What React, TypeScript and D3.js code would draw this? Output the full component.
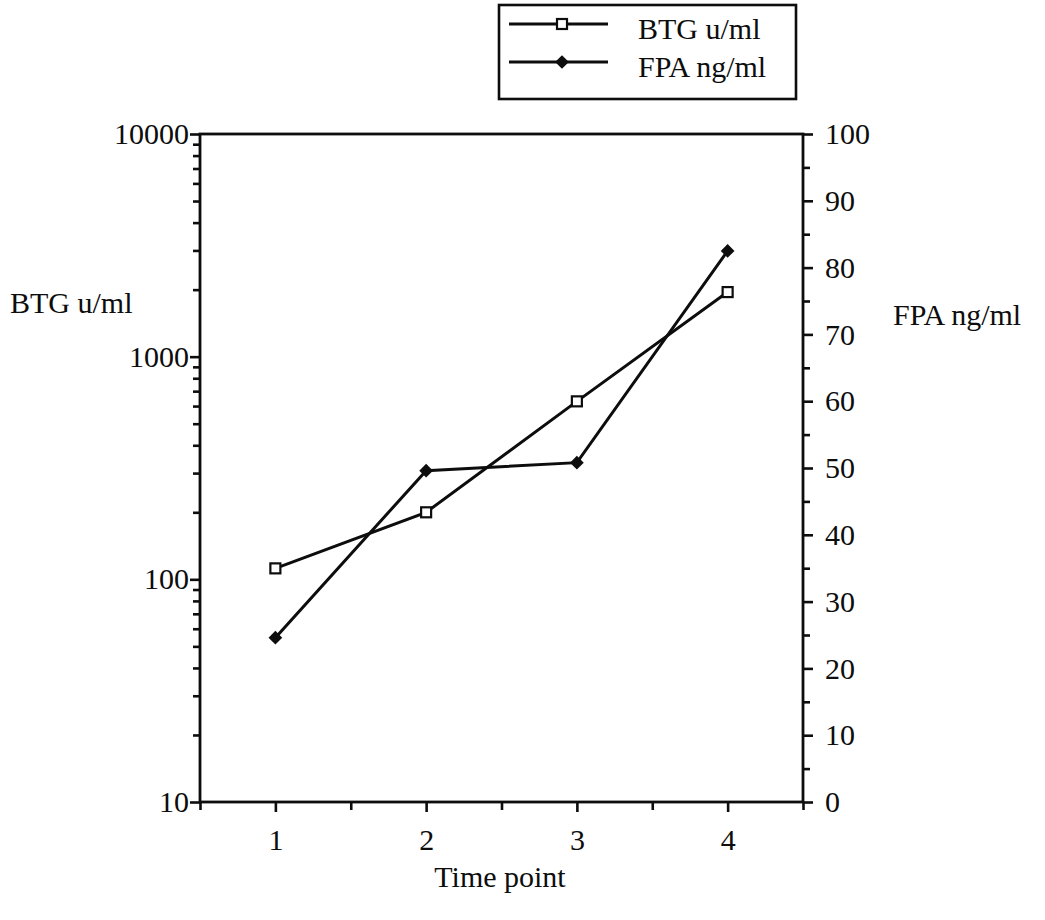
import { useEffect, useRef } from "react";
import * as d3 from "d3";

// data
const timePoints = [1, 2, 3, 4];
const btgValues = [112, 200, 630, 1950]; // BTG u/ml, left log axis
const fpaValues = [24.6, 49.6, 50.8, 82.5]; // FPA ng/ml, right linear axis

const leftMajorTicks = [10, 100, 1000, 10000];
const rightMajorTicks = [0, 10, 20, 30, 40, 50, 60, 70, 80, 90, 100];
const xMajorTicks = [1, 2, 3, 4];
const xMinorTicks = [0.5, 1.5, 2.5, 3.5, 4.5];

const legendItems = [
  { label: "BTG u/ml", marker: "square" },
  { label: "FPA ng/ml", marker: "diamond" },
];

const WIDTH = 1045;
const HEIGHT = 920;
const FONT = "'Liberation Serif', 'Times New Roman', serif";
const INK = "#0d0d0d";

export default function App() {
  const svgRef = useRef<SVGSVGElement>(null);

  useEffect(() => {
    const svg = svgRef.current;
    if (!svg) return;
    const sel = d3.select(svg);
    sel.selectAll("*").remove();

    const plot = { left: 200, right: 803, top: 134, bottom: 802 };

    const x = d3.scaleLinear().domain([0.5, 4.5]).range([plot.left, plot.right]);
    const yLeft = d3.scaleLog().domain([10, 10000]).range([plot.bottom, plot.top]);
    const yRight = d3.scaleLinear().domain([0, 100]).range([plot.bottom, plot.top]);

    sel.append("rect").attr("width", WIDTH).attr("height", HEIGHT).attr("fill", "#fff");

    // minor ticks for the log axis: 2..9 in each decade
    const leftMinor: number[] = [];
    for (let d = 10; d < 10000; d *= 10) {
      for (let k = 2; k <= 9; k++) leftMinor.push(d * k);
    }
    const rightMinor = d3.range(5, 100, 10);

    const styleAxis = (g: d3.Selection<SVGGElement, unknown, null, undefined>) => {
      g.selectAll(".domain").remove();
      g.selectAll(".tick line").attr("stroke", INK).attr("stroke-width", 2.6);
      g.selectAll(".tick text")
        .attr("font-family", FONT)
        .attr("font-size", 30)
        .attr("fill", INK);
    };

    // left axis
    sel.append("g")
      .attr("transform", `translate(${plot.left},0)`)
      .call(d3.axisLeft(yLeft).tickValues(leftMinor).tickSize(7).tickFormat(() => ""))
      .call(styleAxis);
    sel.append("g")
      .attr("transform", `translate(${plot.left},0)`)
      .call(d3.axisLeft(yLeft).tickValues(leftMajorTicks).tickSize(10).tickPadding(1).tickFormat(d3.format("d")))
      .call(styleAxis);

    // right axis
    sel.append("g")
      .attr("transform", `translate(${plot.right},0)`)
      .call(d3.axisRight(yRight).tickValues(rightMinor).tickSize(7).tickFormat(() => ""))
      .call(styleAxis);
    sel.append("g")
      .attr("transform", `translate(${plot.right},0)`)
      .call(d3.axisRight(yRight).tickValues(rightMajorTicks).tickSize(10).tickPadding(12))
      .call(styleAxis);

    // bottom axis
    sel.append("g")
      .attr("transform", `translate(0,${plot.bottom})`)
      .call(d3.axisBottom(x).tickValues(xMinorTicks).tickSize(8).tickFormat(() => ""))
      .call(styleAxis);
    sel.append("g")
      .attr("transform", `translate(0,${plot.bottom})`)
      .call(d3.axisBottom(x).tickValues(xMajorTicks).tickSize(10).tickPadding(17).tickFormat(d3.format("d")))
      .call(styleAxis);

    // frame
    sel.append("rect")
      .attr("x", plot.left)
      .attr("y", plot.top)
      .attr("width", plot.right - plot.left)
      .attr("height", plot.bottom - plot.top)
      .attr("fill", "none")
      .attr("stroke", INK)
      .attr("stroke-width", 2.8);

    const diamond = d3.symbol().type(d3.symbolDiamond2).size(120);

    // BTG line
    const btgLine = d3.line<number>()
      .x((_, i) => x(timePoints[i]))
      .y((d) => yLeft(d));
    sel.append("path")
      .datum(btgValues)
      .attr("d", btgLine)
      .attr("fill", "none")
      .attr("stroke", INK)
      .attr("stroke-width", 3);

    // FPA line
    const fpaLine = d3.line<number>()
      .x((_, i) => x(timePoints[i]))
      .y((d) => yRight(d));
    sel.append("path")
      .datum(fpaValues)
      .attr("d", fpaLine)
      .attr("fill", "none")
      .attr("stroke", INK)
      .attr("stroke-width", 3);

    sel.append("g")
      .selectAll("rect")
      .data(btgValues)
      .enter()
      .append("rect")
      .attr("x", (_, i) => x(timePoints[i]) - 5)
      .attr("y", (d) => yLeft(d) - 5)
      .attr("width", 10)
      .attr("height", 10)
      .attr("fill", "#fff")
      .attr("stroke", INK)
      .attr("stroke-width", 2.2);

    sel.append("g")
      .selectAll("path")
      .data(fpaValues)
      .enter()
      .append("path")
      .attr("transform", (d, i) => `translate(${x(timePoints[i])},${yRight(d)})`)
      .attr("d", diamond)
      .attr("fill", INK);

    // axis titles
    sel.append("text")
      .attr("x", 10)
      .attr("y", 313)
      .attr("font-family", FONT)
      .attr("font-size", 30)
      .attr("fill", INK)
      .text("BTG u/ml");
    sel.append("text")
      .attr("x", 893)
      .attr("y", 325)
      .attr("font-family", FONT)
      .attr("font-size", 30)
      .attr("fill", INK)
      .text("FPA ng/ml");
    sel.append("text")
      .attr("x", 500)
      .attr("y", 887)
      .attr("text-anchor", "middle")
      .attr("font-family", FONT)
      .attr("font-size", 30)
      .attr("fill", INK)
      .text("Time point");

    // legend
    const legend = sel.append("g").attr("transform", "translate(499,5)");
    legend.append("rect")
      .attr("width", 297)
      .attr("height", 94)
      .attr("fill", "#fff")
      .attr("stroke", INK)
      .attr("stroke-width", 2.6);
    legendItems.forEach((item, i) => {
      const cy = 19 + i * 38;
      const row = legend.append("g").attr("transform", `translate(0,${cy})`);
      row.append("line")
        .attr("x1", 10)
        .attr("x2", 109)
        .attr("stroke", INK)
        .attr("stroke-width", 2.8);
      if (item.marker === "square") {
        row.append("rect")
          .attr("x", 58)
          .attr("y", -5)
          .attr("width", 10)
          .attr("height", 10)
          .attr("fill", "#fff")
          .attr("stroke", INK)
          .attr("stroke-width", 2.2);
      } else {
        row.append("path")
          .attr("transform", "translate(63,0)")
          .attr("d", diamond)
          .attr("fill", INK);
      }
      row.append("text")
        .attr("x", 139)
        .attr("y", 15)
        .attr("font-family", FONT)
        .attr("font-size", 30)
        .attr("fill", INK)
        .text(item.label);
    });
  }, []);

  return (
    <div style={{ position: "absolute", left: 0, top: 0 }}>
      <svg ref={svgRef} width={WIDTH} height={HEIGHT} style={{ display: "block" }} />
    </div>
  );
}
